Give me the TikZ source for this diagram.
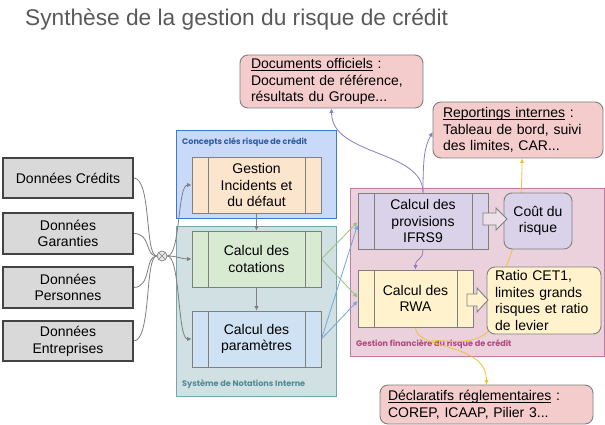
\documentclass[tikz,border=0pt]{standalone}
\usepackage{fontspec}
\setmainfont{Liberation Sans}
\newfontfamily\labfont{Poppins}
\usetikzlibrary{arrows.meta,calc}
\definecolor{titlec}{HTML}{595959}
\definecolor{dgray}{HTML}{434343}
\definecolor{bgray}{HTML}{7F7F7F}
\definecolor{gfill}{HTML}{D9D9D9}
\definecolor{cbluef}{HTML}{C9DAF8}
\definecolor{cbluel}{HTML}{3C78D8}
\definecolor{cbluet}{HTML}{2E5C9E}
\definecolor{tealf}{HTML}{D0E0E3}
\definecolor{teall}{HTML}{76A5AF}
\definecolor{tealt}{HTML}{4F8A96}
\definecolor{pinkf}{HTML}{EAD1DC}
\definecolor{pinkl}{HTML}{C27BA0}
\definecolor{pinkt}{HTML}{B0487E}
\definecolor{orf}{HTML}{FCE5CD}
\definecolor{grf}{HTML}{D9EAD3}
\definecolor{blf}{HTML}{CFE2F3}
\definecolor{puf}{HTML}{D9D2E9}
\definecolor{yef}{HTML}{FFF2CC}
\definecolor{notef}{HTML}{F4CCCC}
\definecolor{arrf}{HTML}{EDE0E8}
\definecolor{cpurple}{HTML}{8E7CC3}
\definecolor{cgreen}{HTML}{93C47D}
\definecolor{cblue}{HTML}{6FA8DC}
\definecolor{cyellow}{HTML}{F1C232}
\pgfdeclarelayer{back}
\pgfdeclarelayer{mid}
\pgfsetlayers{back,mid,main}
\newsavebox\ulbox
\newcommand\myul[1]{\sbox\ulbox{#1}\rlap{\rule[-1.8pt]{\wd\ulbox}{0.7pt}}\usebox\ulbox}
\tikzset{
  txt/.style={font=\fontsize{14}{16.7}\selectfont, align=center, inner sep=0pt},
  databox/.style={txt, draw=dgray, line width=1.2pt, fill=gfill, minimum width=130, minimum height=40},
  ppbox/.style={txt, draw=bgray, line width=0.9pt, minimum height=56,
    path picture={\draw[bgray, line width=0.9pt]
      ([xshift=16pt]path picture bounding box.north west) -- ([xshift=16pt]path picture bounding box.south west)
      ([xshift=-16pt]path picture bounding box.north east) -- ([xshift=-16pt]path picture bounding box.south east);}},
  rbox/.style={txt, draw=bgray, line width=0.9pt, rounded corners=8pt},
  note/.style={rbox, fill=notef, align=left, inner ysep=0pt},
  container/.style={line width=0.9pt, inner sep=0pt},
  lab/.style={font=\labfont\bfseries\fontsize{8.1}{9}\selectfont, inner sep=0pt, anchor=west},
  blockarr/.style={draw=bgray, line width=0.9pt, line join=miter},
  tip/.style={-{Latex[length=4.5pt,width=4.5pt]}},
  gline/.style={bgray, line width=0.8pt},
  pline/.style={cpurple, line width=0.8pt, tip},
  grline/.style={cgreen, line width=0.8pt, tip},
  blline/.style={cblue, line width=0.8pt, tip},
  yline/.style={cyellow, line width=0.8pt},
}
\begin{document}
\begin{tikzpicture}[x=1pt,y=-1pt]
\useasboundingbox (0,0) rectangle (605,425);
% title
\node[anchor=base west, inner sep=0pt, text=titlec, font=\fontsize{22.7}{26}\selectfont] (title) at (25,26) {Synthèse de la gestion du risque de crédit};

% containers
\begin{pgfonlayer}{back}
\fill[white] (0,0) rectangle (605,425);
\node[container, draw=cbluel, fill=cbluef, minimum width=160, minimum height=88] (concepts) at (256,174) {};
\node[lab, text=cbluet] (conceptslab) at (182,142) {Concepts clés risque de crédit};
\node[container, draw=teall, fill=tealf, minimum width=160, minimum height=170] (sni) at (256,311) {};
\node[lab, text=tealt] (snilab) at (182,384) {Système de Notations Interne};
\node[container, draw=pinkl, fill=pinkf, minimum width=254.5, minimum height=168] (gfin) at (477.25,272) {};
\node[lab, text=pinkt] (gfinlab) at (356,344) {Gestion financière du risque de crédit};
\end{pgfonlayer}

% data boxes
\node[databox] (cred) at (68,178) {Données Crédits};
\node[databox, minimum height=41] (gar) at (68,233.5) {Données\\Garanties};
\node[databox, minimum height=41] (pers) at (68,287.5) {Données\\Personnes};
\node[databox] (ent) at (68,341) {Données\\Entreprises};

% cross symbol
\node[circle, draw=bgray, fill=gfill!60, line width=0.7pt, minimum size=10, inner sep=0pt,
  path picture={\draw[bgray, line width=0.6pt] (path picture bounding box.north west) -- (path picture bounding box.south east)
  (path picture bounding box.north east) -- (path picture bounding box.south west);}] (cross) at (162,256) {};

% process boxes
\node[ppbox, fill=orf, minimum width=129] (gest) at (256.5,185) {Gestion\\Incidents et\\du défaut};
\node[ppbox, fill=grf, minimum width=129] (cot) at (256.5,259) {Calcul des\\cotations};
\node[ppbox, fill=blf, minimum width=129] (par) at (256.5,339) {Calcul des\\paramètres};
\node[ppbox, fill=puf, minimum width=130] (prov) at (423,221) {Calcul des\\provisions\\IFRS9};
\node[ppbox, fill=yef, minimum width=115, minimum height=57] (rwa) at (415.5,298.5) {Calcul des\\RWA};
\node[rbox, fill=puf, minimum width=68, minimum height=56] (cout) at (538,221) {Coût du\\risque};
\node[rbox, fill=yef, align=left, text width=98, inner xsep=8pt, minimum height=67] (ratio) at (544,300.5) {Ratio CET1,\\limites grands\\risques et ratio\\de levier};

% block arrows
\draw[blockarr, fill=arrf] (483,213) -- (496,213) -- (496,208) -- (507,219) -- (496,230) -- (496,225) -- (483,225) -- cycle;
\draw[blockarr, fill=yef] (467,294) -- (477,294) -- (477,288) -- (488,300) -- (477,312) -- (477,306) -- (467,306) -- cycle;

% notes
\node[note, text width=161, inner xsep=11pt, minimum height=53] (docs) at (331.5,81.5) {\myul{Documents officiels} :\\Document de référence,\\résultats du Groupe...};
\node[note, text width=150, inner xsep=10pt, minimum height=56] (rep) at (518,130) {\myul{Reportings internes} :\\Tableau de bord, suivi\\des limites, CAR...};
\node[note, text width=197, inner xsep=8pt, minimum height=39] (decl) at (486.5,404.5) {\myul{Déclaratifs réglementaires} :\\COREP, ICAAP, Pilier 3...};

\coordinate (rs) at ($(ratio.south west)+(3,-5)$);
\coordinate (merge) at (431,341);
\coordinate (rt) at ($(ratio.north)+(-38,0)$);

% connectors
\begin{pgfonlayer}{mid}
\foreach \n in {cred,gar,pers,ent}
  \draw[gline] (\n.east) .. controls +(18,0) and +(-12,0) .. (cross.west);
\draw[gline, tip] (cross.east) .. controls +(13,0) and +(-14,0) .. (gest.west);
\draw[gline, tip] (cross.east) .. controls +(10,0) and +(-10,0) .. (cot.west);
\draw[gline, tip] (cross.east) .. controls +(13,0) and +(-14,0) .. (par.west);
\draw[gline, tip] (gest.south) -- (cot.north);
\draw[gline, tip] (cot.south) -- (par.north);
\draw[grline] (cot.east) -- ([yshift=-1pt]prov.west);
\draw[grline] (cot.east) -- ([yshift=1pt]rwa.west);
\draw[blline] (par.east) -- ([yshift=-4pt]prov.west);
\draw[blline] (par.east) -- ([yshift=-2.5pt]rwa.west);
\draw[pline] (prov.north) .. controls +(0,-43) and +(0,48) .. (docs.south);
\draw[pline] (prov.north) .. controls +(0,-35) and +(-8,15) .. ([yshift=-2pt]rep.west);
\draw[pline] (prov.south) .. controls +(0,12) and +(0,-12) .. (rwa.north);
\draw[yline, tip] (rt) .. controls +(12,-25) and +(0,40) .. ([xshift=4pt]rep.south);
\draw[yline, tip] (rwa.south) .. controls +(0,23) and +(0,-43) .. (decl.north);
\draw[yline] (rs) .. controls +(-14,18) and +(14,-2) .. (merge);
\end{pgfonlayer}
\end{tikzpicture}
\end{document}
